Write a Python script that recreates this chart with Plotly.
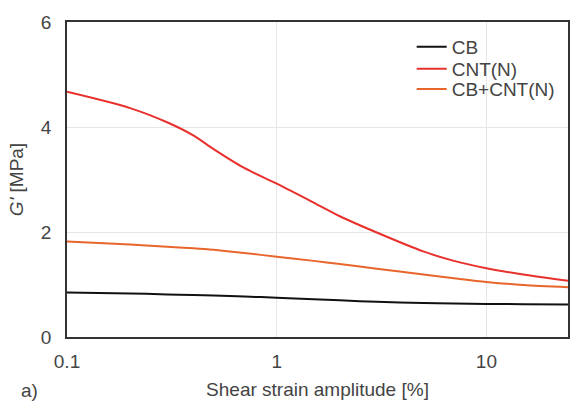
import plotly.graph_objects as go

strain = [0.1, 0.2, 0.3, 0.4, 0.5, 0.7, 1.0, 1.5, 2.0, 3.0, 5.0, 7.0, 10.0, 15.0, 24.5]
cb = [0.85, 0.83, 0.81, 0.80, 0.79, 0.77, 0.75, 0.72, 0.70, 0.67, 0.65, 0.64, 0.63, 0.625, 0.62]
cnt = [4.67, 4.36, 4.09, 3.84, 3.58, 3.22, 2.92, 2.56, 2.30, 1.99, 1.63, 1.45, 1.31, 1.19, 1.07]
cbcnt = [1.82, 1.76, 1.72, 1.69, 1.66, 1.60, 1.53, 1.45, 1.39, 1.30, 1.19, 1.12, 1.05, 0.99, 0.95]

names = ["CB", "CNT(N)", "CB+CNT(N)"]
colors = ["#111111", "#e8302c", "#e8652c"]
series = [cb, cnt, cbcnt]
legend_ids = ["legend", "legend2", "legend3"]
legend_y = [0.921, 0.851, 0.787]

fig = go.Figure()
for n, c, s, lg in zip(names, colors, series, legend_ids):
    fig.add_trace(go.Scatter(x=strain, y=s, name=n, mode="lines", legend=lg,
                             line=dict(color=c, width=2, shape="spline", smoothing=0.8)))

font_family = "Liberation Sans, Arial, sans-serif"
legend_common = dict(x=0.688, xanchor="left", yanchor="middle",
                     bgcolor="rgba(0,0,0,0)", borderwidth=0,
                     font=dict(size=19, color="#444444"), itemwidth=30)
fig.update_layout(
    width=571, height=401,
    margin=dict(l=67, r=1, t=22, b=64),
    plot_bgcolor="white", paper_bgcolor="white",
    font=dict(family=font_family, color="#444444", size=19),
    showlegend=True,
    legend=dict(y=legend_y[0], **legend_common),
    legend2=dict(y=legend_y[1], **legend_common),
    legend3=dict(y=legend_y[2], **legend_common),
    xaxis=dict(type="log", range=[-1, 1.389], tickvals=[0.1, 1, 10],
               ticktext=["0.1", "1", "10"], showgrid=True, gridcolor="#e6e6e6",
               showline=True, linecolor="#333333", linewidth=1.5, mirror=True,
               ticks="", ticklabelstandoff=6, tickfont=dict(size=19),
               title=dict(text="Shear strain amplitude [%]", font=dict(size=19), standoff=12),
               zeroline=False),
    yaxis=dict(range=[0, 6], tickvals=[0, 2, 4, 6], showgrid=True, gridcolor="#e6e6e6",
               showline=True, linecolor="#333333", linewidth=1.5, mirror=True,
               ticks="", ticklabelstandoff=10, tickfont=dict(size=19),
               title=dict(text="<i>G'</i> [MPa]", font=dict(size=19), standoff=12),
               zeroline=False),
)
fig.add_annotation(text="a)", xref="paper", yref="paper", x=-0.075, y=-0.171,
                   xanchor="center", yanchor="middle", showarrow=False,
                   font=dict(size=19, color="#444444"))
fig.write_html("out.html")
